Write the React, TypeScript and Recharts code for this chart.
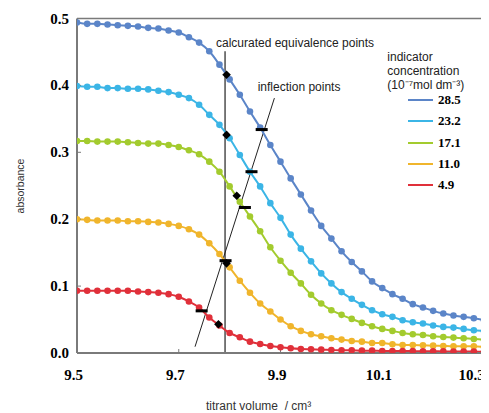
import React from 'react';
import { ComposedChart, Line, XAxis, YAxis, Scatter, ReferenceLine } from 'recharts';

const volumes = [
  9.5, 9.52, 9.54, 9.56, 9.58, 9.6, 9.62, 9.64, 9.66, 9.68,
  9.7, 9.72, 9.74, 9.76, 9.78, 9.8, 9.82, 9.84, 9.86, 9.88,
  9.9, 9.92, 9.94, 9.96, 9.98, 10.0, 10.02, 10.04, 10.06, 10.08,
  10.1, 10.12, 10.14, 10.16, 10.18, 10.2, 10.22, 10.24, 10.26, 10.28, 10.3,
];

const conc285 = [
  0.494, 0.492, 0.492, 0.491, 0.49, 0.489, 0.488, 0.486, 0.485, 0.482,
  0.479, 0.472, 0.464, 0.451, 0.431, 0.409, 0.386, 0.361, 0.337, 0.311,
  0.286, 0.261, 0.237, 0.213, 0.19, 0.171, 0.152, 0.136, 0.122, 0.107,
  0.097, 0.088, 0.081, 0.073, 0.068, 0.063, 0.059, 0.056, 0.054, 0.052, 0.049,
];
const conc232 = [
  0.399, 0.398, 0.398, 0.396, 0.396, 0.395, 0.395, 0.394, 0.392, 0.39,
  0.386, 0.381, 0.371, 0.356, 0.341, 0.321, 0.296, 0.271, 0.249, 0.224,
  0.202, 0.177, 0.156, 0.137, 0.119, 0.104, 0.091, 0.081, 0.072, 0.064,
  0.058, 0.054, 0.049, 0.046, 0.044, 0.041, 0.039, 0.038, 0.036, 0.034, 0.033,
];
const conc171 = [
  0.317, 0.317, 0.316, 0.316, 0.316, 0.315, 0.314, 0.313, 0.313, 0.311,
  0.308, 0.303, 0.297, 0.286, 0.271, 0.249, 0.226, 0.204, 0.182, 0.158,
  0.138, 0.12, 0.104, 0.087, 0.074, 0.064, 0.057, 0.051, 0.045, 0.04,
  0.036, 0.033, 0.03, 0.028, 0.027, 0.025, 0.024, 0.023, 0.022, 0.021, 0.02,
];
const conc110 = [
  0.2, 0.199, 0.198, 0.198, 0.198, 0.197, 0.197, 0.196, 0.195, 0.193,
  0.19, 0.185, 0.177, 0.164, 0.148, 0.128, 0.108, 0.09, 0.074, 0.062,
  0.05, 0.04, 0.033, 0.028, 0.025, 0.022, 0.02, 0.018, 0.017, 0.015,
  0.015, 0.013, 0.012, 0.012, 0.0115, 0.011, 0.0105, 0.01, 0.01, 0.01, 0.009,
];
const conc49 = [
  0.093, 0.093, 0.093, 0.093, 0.093, 0.093, 0.092, 0.091, 0.09, 0.088,
  0.084, 0.077, 0.068, 0.053, 0.041, 0.03, 0.0235, 0.017, 0.0135, 0.0105,
  0.0085, 0.007, 0.006, 0.0055, 0.005, 0.0045, 0.004, 0.004, 0.0035, 0.0035,
  0.003, 0.003, 0.003, 0.0028, 0.0026, 0.0025, 0.0024, 0.0023, 0.0022, 0.0021, 0.002,
];

const seriesKeys = ['c285', 'c232', 'c171', 'c110', 'c49'];
const seriesLabels = ['28.5', '23.2', '17.1', '11.0', '4.9'];
const seriesColors = ['#5b85c8', '#3bb5e6', '#a3cb2e', '#f0b52c', '#e0303a'];
const seriesValues = [conc285, conc232, conc171, conc110, conc49];

const xTicks = [9.5, 9.7, 9.9, 10.1, 10.3];
const yTicks = [0, 0.1, 0.2, 0.3, 0.4, 0.5];

// calculated equivalence points (diamonds)
const equivX = [9.794, 9.794, 9.814, 9.794, 9.778];
const equivY = [0.416, 0.326, 0.235, 0.134, 0.043];
// inflection points (bars)
const inflX = [9.863, 9.843, 9.83, 9.792, 9.745];
const inflY = [0.334, 0.271, 0.2175, 0.138, 0.063];

const equivLineX = 9.791;
const equivLineTop = 0.451;
const inflLine = [
  { x: 9.732, y: 0.0094 },
  { x: 9.888, y: 0.381 },
];

const table = volumes.map((x, i) => {
  const row: Record<string, number> = { x };
  seriesKeys.forEach((k, j) => {
    row[k] = seriesValues[j][i];
  });
  return row;
});
const equivData = equivX.map((x, i) => ({ x, v: equivY[i] }));
const inflData = inflX.map((x, i) => ({ x, v: inflY[i] }));

const Diamond = (props: any) => {
  const { cx, cy } = props;
  const a = 4.3;
  return (
    <polygon
      points={`${cx},${cy - a} ${cx + a},${cy} ${cx},${cy + a} ${cx - a},${cy}`}
      fill="#000"
    />
  );
};
const Bar = (props: any) => {
  const { cx, cy } = props;
  return <rect x={cx - 6} y={cy - 1.5} width={12} height={3} fill="#000" />;
};

const sans = "'Liberation Sans', Arial, Helvetica, sans-serif";
const serif = "'Liberation Serif', 'Times New Roman', serif";

const XTick = (props: any) => {
  const { x, y, payload } = props;
  return (
    <text x={x - 3.5} y={y + 11} textAnchor="middle" fontFamily={serif} fontWeight={700} fontSize={15} fill="#000">
      {Number(payload.value).toFixed(1)}
    </text>
  );
};
const YTick = (props: any) => {
  const { x, y, payload } = props;
  return (
    <text x={x} y={y + 5} textAnchor="end" fontFamily={serif} fontWeight={700} fontSize={15} fill="#000">
      {Number(payload.value).toFixed(1)}
    </text>
  );
};

export default function App() {
  return (
    <div style={{ position: 'relative', width: 481, height: 405 }}>
      <ComposedChart
        width={481}
        height={405}
        data={table}
        margin={{ top: 10.5, right: 5, bottom: 30, left: 19 }}
      >
        <XAxis
          dataKey="x"
          type="number"
          domain={[9.5, 10.3]}
          ticks={xTicks}
          allowDataOverflow
          tick={<XTick />}
          tickSize={-4}
          tickMargin={20}
          height={30}
          axisLine={{ stroke: '#7a7a7a', strokeWidth: 2 }}
          tickLine={{ stroke: '#7a7a7a', strokeWidth: 1 }}
        />
        <YAxis
          type="number"
          domain={[0, 0.5]}
          ticks={yTicks}
          allowDataOverflow
          tick={<YTick />}
          tickSize={-4}
          tickMargin={12}
          width={50}
          axisLine={{ stroke: '#7a7a7a', strokeWidth: 2 }}
          tickLine={{ stroke: '#7a7a7a', strokeWidth: 1 }}
        />
        <ReferenceLine y={0.5} stroke="#7a7a7a" strokeWidth={1.5} ifOverflow="visible" />
        <ReferenceLine x={10.3} stroke="#7a7a7a" strokeWidth={1.5} ifOverflow="visible" />
        <ReferenceLine
          segment={[
            { x: equivLineX, y: 0 },
            { x: equivLineX, y: equivLineTop },
          ]}
          stroke="#222"
          strokeWidth={1.2}
          ifOverflow="visible"
        />
        <ReferenceLine
          segment={inflLine}
          stroke="#222"
          strokeWidth={1}
          ifOverflow="visible"
        />
        {seriesKeys.map((k, j) => (
          <Line
            key={k}
            dataKey={k}
            type="monotone"
            stroke={seriesColors[j]}
            strokeWidth={2}
            dot={{ r: 3.3, fill: seriesColors[j], stroke: 'none' }}
            activeDot={false}
            isAnimationActive={false}
          />
        ))}
        <Scatter data={inflData} dataKey="v" shape={<Bar />} isAnimationActive={false} />
        <Scatter data={equivData} dataKey="v" shape={<Diamond />} isAnimationActive={false} />
      </ComposedChart>

      <div style={{ position: 'absolute', left: 208, top: 27.5, fontFamily: sans, fontSize: 12, lineHeight: '14px', color: '#222', whiteSpace: 'nowrap' }}>
        calcurated equivalence points
      </div>
      <div style={{ position: 'absolute', left: 249.7, top: 72, fontFamily: sans, fontSize: 12, lineHeight: '14px', color: '#222', whiteSpace: 'nowrap' }}>
        inflection points
      </div>

      <div style={{ position: 'absolute', left: 379.3, top: 41.5, fontFamily: sans, fontSize: 12, lineHeight: '14px', color: '#222', whiteSpace: 'nowrap' }}>
        indicator
      </div>
      <div style={{ position: 'absolute', left: 379.3, top: 56, fontFamily: sans, fontSize: 12, lineHeight: '14px', color: '#222', whiteSpace: 'nowrap' }}>
        concentration
      </div>
      <div style={{ position: 'absolute', left: 379.3, top: 70, fontFamily: sans, fontSize: 12, lineHeight: '14px', color: '#222', whiteSpace: 'nowrap' }}>
        (10⁻⁷mol dm⁻³)
      </div>
      {seriesLabels.map((lab, j) => (
        <div key={lab} style={{ position: 'absolute', left: 400, top: 92 + j * 21.25 - 8, height: 16, display: 'flex', alignItems: 'center', whiteSpace: 'nowrap' }}>
          <div style={{ width: 25, height: 2, background: seriesColors[j] }} />
          <span style={{ marginLeft: 5, fontFamily: serif, fontWeight: 700, fontSize: 13, color: '#000' }}>{lab}</span>
        </div>
      ))}

      <div style={{ position: 'absolute', left: 12, top: 178, transform: 'translate(-50%, -50%) rotate(-90deg)', fontFamily: sans, fontSize: 10.5, color: '#333', whiteSpace: 'nowrap' }}>
        absorbance
      </div>
      <div style={{ position: 'absolute', left: 250.7, top: 390.5, transform: 'translateX(-50%)', fontFamily: sans, fontSize: 12, lineHeight: '14px', color: '#333', whiteSpace: 'nowrap' }}>
        titrant volume &nbsp;/ cm³
      </div>
    </div>
  );
}
